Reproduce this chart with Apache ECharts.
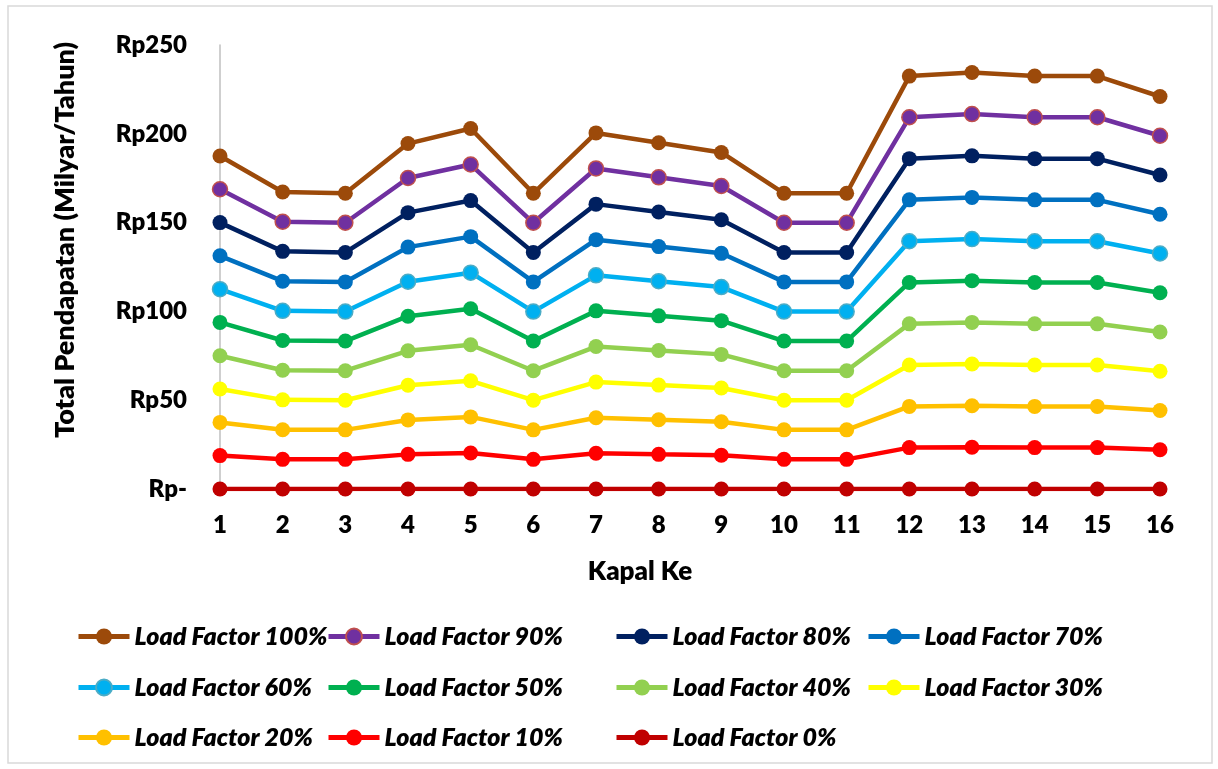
<!DOCTYPE html>
<html>
<head>
<meta charset="utf-8">
<title>Total Pendapatan per Kapal</title>
<script src="https://cdn.jsdelivr.net/npm/echarts@6/dist/echarts.min.js"></script>
<style>
  html, body { margin: 0; padding: 0; background: #ffffff; }
  #chart { width: 1218px; height: 769px; }
</style>
</head>
<body>
<div id="chart"></div>
<script>
// Ship numbers along the x axis
const kapal = ['1','2','3','4','5','6','7','8','9','10','11','12','13','14','15','16'];

// Annual revenue (billion Rp) per ship for each load factor
const lf100 = [187.5, 167.2, 166.5, 194.5, 203.0, 166.5, 200.5, 195.0, 189.5, 166.5, 166.5, 232.5, 234.5, 232.5, 232.5, 221.0];
const lf90  = [168.8, 150.5, 149.9, 175.1, 182.7, 149.9, 180.5, 175.5, 170.6, 149.9, 149.9, 209.3, 211.1, 209.3, 209.3, 198.9];
const lf80  = [150.0, 133.8, 133.2, 155.6, 162.4, 133.2, 160.4, 156.0, 151.6, 133.2, 133.2, 186.0, 187.6, 186.0, 186.0, 176.8];
const lf70  = [131.3, 117.0, 116.6, 136.2, 142.1, 116.6, 140.4, 136.5, 132.7, 116.6, 116.6, 162.8, 164.2, 162.8, 162.8, 154.7];
const lf60  = [112.5, 100.3,  99.9, 116.7, 121.8,  99.9, 120.3, 117.0, 113.7,  99.9,  99.9, 139.5, 140.7, 139.5, 139.5, 132.6];
const lf50  = [ 93.8,  83.6,  83.3,  97.3, 101.5,  83.3, 100.3,  97.5,  94.8,  83.3,  83.3, 116.3, 117.3, 116.3, 116.3, 110.5];
const lf40  = [ 75.0,  66.9,  66.6,  77.8,  81.2,  66.6,  80.2,  78.0,  75.8,  66.6,  66.6,  93.0,  93.8,  93.0,  93.0,  88.4];
const lf30  = [ 56.3,  50.2,  50.0,  58.4,  60.9,  50.0,  60.2,  58.5,  56.9,  50.0,  50.0,  69.8,  70.4,  69.8,  69.8,  66.3];
const lf20  = [ 37.5,  33.4,  33.3,  38.9,  40.6,  33.3,  40.1,  39.0,  37.9,  33.3,  33.3,  46.5,  46.9,  46.5,  46.5,  44.2];
const lf10  = [ 18.8,  16.7,  16.7,  19.5,  20.3,  16.7,  20.1,  19.5,  19.0,  16.7,  16.7,  23.3,  23.5,  23.3,  23.3,  22.1];
const lf0   = [    0,     0,     0,     0,     0,     0,     0,     0,     0,     0,     0,     0,     0,     0,     0,     0];

// Y axis tick values
const yTicks = [0, 50, 100, 150, 200, 250];

const names = [
  'Load Factor 100%', 'Load Factor 90%', 'Load Factor 80%', 'Load Factor 70%',
  'Load Factor 60%', 'Load Factor 50%', 'Load Factor 40%', 'Load Factor 30%',
  'Load Factor 20%', 'Load Factor 10%', 'Load Factor 0%'
];
const values = [lf100, lf90, lf80, lf70, lf60, lf50, lf40, lf30, lf20, lf10, lf0];
const colors = ['#9C4A0A', '#7030A0', '#002060', '#0070C0', '#00B0F0', '#00B050',
                '#92D050', '#FFFF00', '#FFC000', '#FF0000', '#C00000'];
const markerBorders = [null, '#C0504D', null, null, '#4BACC6', null, null, null, null, null, null];

const FONT = 'Lato, "Open Sans", sans-serif';
const HEAVY = 800;

// Legend layout: 4 columns, 3 rows
const legendCols = [76, 326, 614, 866];
const legendRows = [638, 689, 739];

const chart = echarts.init(document.getElementById('chart'), null, { renderer: 'canvas' });

const series = names.map((name, i) => ({
  name: name,
  type: 'line',
  data: values[i],
  symbol: 'circle',
  symbolSize: 15,
  lineStyle: { color: colors[i], width: 4.5 },
  itemStyle: markerBorders[i]
    ? { color: colors[i], borderColor: markerBorders[i], borderWidth: 1.5 }
    : { color: colors[i], borderWidth: 0 },
  emphasis: { disabled: true },
  animation: false
}));

const legends = names.map((name, i) => ({
  data: [name],
  left: legendCols[i % 4],
  top: legendRows[Math.floor(i / 4)] - 14,
  padding: 0,
  itemWidth: 51,
  itemHeight: 20,
  selectedMode: false,
  lineStyle: { width: 5 },
  textStyle: {
    fontFamily: FONT,
    fontSize: 25,
    fontWeight: HEAVY,
    fontStyle: 'italic',
    color: '#000000'
  }
}));

chart.setOption({
  backgroundColor: '#ffffff',
  animation: false,
  grid: { left: 220, right: 58, top: 45, bottom: 280, containLabel: false },
  xAxis: {
    type: 'category',
    data: kapal,
    boundaryGap: false,
    axisLine: { show: true, lineStyle: { color: '#BFBFBF', width: 1.5 } },
    axisTick: { show: false },
    axisLabel: {
      margin: 24,
      fontFamily: FONT,
      fontSize: 24,
      fontWeight: HEAVY,
      color: '#000000'
    },
    splitLine: { show: false }
  },
  yAxis: {
    type: 'value',
    min: yTicks[0],
    max: yTicks[yTicks.length - 1],
    interval: yTicks[1] - yTicks[0],
    axisLine: { show: true, lineStyle: { color: '#BFBFBF', width: 1.5 } },
    axisTick: { show: false },
    splitLine: { show: false },
    axisLabel: {
      margin: 33,
      fontFamily: FONT,
      fontSize: 24,
      fontWeight: HEAVY,
      color: '#000000',
      formatter: v => (v === 0 ? 'Rp-' : 'Rp' + v)
    }
  },
  legend: legends,
  series: series,
  graphic: [
    {
      type: 'rect',
      shape: { x: 8, y: 6, width: 1204, height: 757 },
      style: { fill: 'none', stroke: '#D9D9D9', lineWidth: 1.5 },
      silent: true
    },
    {
      type: 'text',
      x: 65,
      y: 240,
      rotation: Math.PI / 2,
      style: {
        text: 'Total Pendapatan (Milyar/Tahun)',
        fontFamily: FONT,
        fontSize: 27,
        fontWeight: HEAVY,
        fill: '#000000',
        align: 'center',
        verticalAlign: 'middle'
      },
      silent: true
    },
    {
      type: 'text',
      x: 640,
      y: 572,
      style: {
        text: 'Kapal Ke',
        fontFamily: FONT,
        fontSize: 26,
        fontWeight: HEAVY,
        fill: '#000000',
        align: 'center',
        verticalAlign: 'middle'
      },
      silent: true
    }
  ]
});
</script>
</body>
</html>
